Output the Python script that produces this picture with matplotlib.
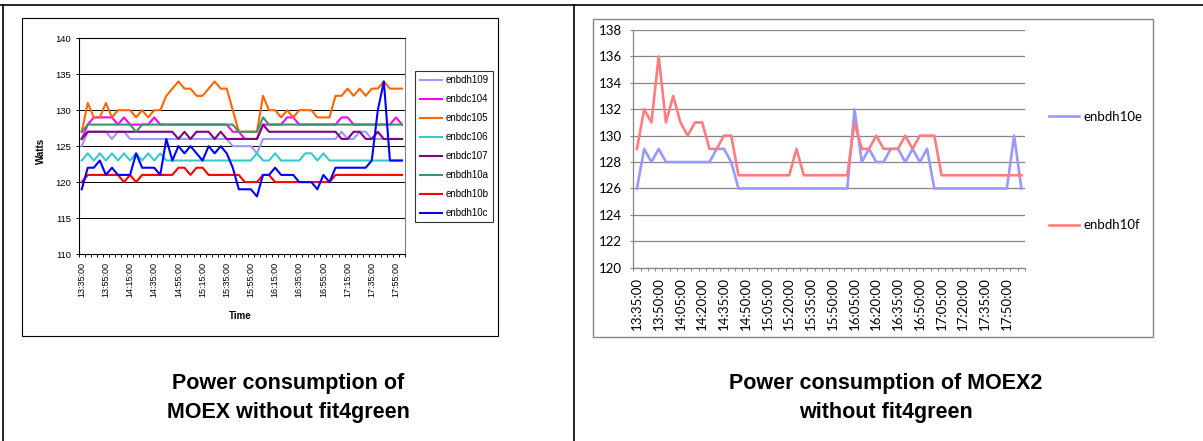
import matplotlib
matplotlib.use("Agg")
import matplotlib.pyplot as plt
from matplotlib.lines import Line2D
from matplotlib.patches import Rectangle
import pandas as pd

# sample times, every 5 minutes
times = pd.date_range("13:35", "18:00", freq="5min").strftime("%H:%M:%S").tolist()

# MOEX servers (Watts)
enbdh109 = [125, 127, 127, 127, 127, 126, 127, 127, 126, 126,
            126, 126, 126, 126, 126, 126, 126, 126, 126, 126,
            126, 126, 126, 126, 126, 125, 125, 125, 125, 124,
            126, 126, 126, 126, 126, 126, 126, 126, 126, 126,
            126, 126, 126, 127, 126, 126, 127, 127, 126, 126,
            126, 126, 126, 126]
enbdc104 = [126, 128, 129, 129, 129, 129, 128, 129, 128, 128,
            128, 128, 129, 128, 128, 128, 128, 128, 128, 128,
            128, 128, 128, 128, 128, 127, 127, 126, 126, 126,
            128, 128, 128, 128, 129, 129, 128, 128, 128, 128,
            128, 128, 128, 129, 129, 128, 128, 128, 128, 128,
            128, 128, 129, 128]
enbdc105 = [127, 131, 129, 129, 131, 129, 130, 130, 130, 129,
            130, 129, 130, 130, 132, 133, 134, 133, 133, 132,
            132, 133, 134, 133, 133, 130, 127, 127, 127, 127,
            132, 130, 130, 129, 130, 129, 130, 130, 130, 129,
            129, 129, 132, 132, 133, 132, 133, 132, 133, 133,
            134, 133, 133, 133]
enbdc106 = [123, 124, 123, 124, 123, 124, 123, 124, 123, 124,
            123, 124, 123, 124, 123, 123, 123, 123, 123, 123,
            123, 123, 123, 123, 123, 123, 123, 123, 123, 124,
            123, 123, 124, 123, 123, 123, 123, 124, 124, 123,
            124, 123, 123, 123, 123, 123, 123, 123, 123, 123,
            123, 123, 123, 123]
enbdc107 = [126, 127, 127, 127, 127, 127, 127, 127, 127, 127,
            127, 127, 127, 127, 127, 127, 126, 127, 126, 127,
            127, 127, 126, 127, 126, 126, 126, 126, 126, 126,
            128, 127, 127, 127, 127, 127, 127, 127, 127, 127,
            127, 127, 127, 126, 126, 127, 127, 126, 126, 127,
            126, 126, 126, 126]
enbdh10a = [127, 128, 128, 128, 128, 128, 128, 128, 128, 127,
            128, 128, 128, 128, 128, 128, 128, 128, 128, 128,
            128, 128, 128, 128, 128, 128, 127, 127, 127, 127,
            129, 128, 128, 128, 128, 128, 128, 128, 128, 128,
            128, 128, 128, 128, 128, 128, 128, 128, 128, 128,
            128, 128, 128, 128]
enbdh10b = [120, 121, 121, 121, 121, 121, 121, 120, 121, 120,
            121, 121, 121, 121, 121, 121, 122, 122, 121, 122,
            122, 121, 121, 121, 121, 121, 121, 120, 120, 120,
            121, 121, 120, 120, 120, 120, 120, 120, 120, 120,
            120, 120, 121, 121, 121, 121, 121, 121, 121, 121,
            121, 121, 121, 121]
enbdh10c = [119, 122, 122, 123, 121, 122, 121, 121, 121, 124,
            122, 122, 122, 121, 126, 123, 125, 124, 125, 124,
            123, 125, 124, 125, 124, 122, 119, 119, 119, 118,
            121, 121, 122, 121, 121, 121, 120, 120, 120, 119,
            121, 120, 122, 122, 122, 122, 122, 122, 123, 130,
            134, 123, 123, 123]

# MOEX2 servers (Watts)
enbdh10e = [126, 129, 128, 129, 128, 128, 128, 128, 128, 128,
            128, 129, 129, 128, 126, 126, 126, 126, 126, 126,
            126, 126, 126, 126, 126, 126, 126, 126, 126, 126,
            132, 128, 129, 128, 128, 129, 129, 128, 129, 128,
            129, 126, 126, 126, 126, 126, 126, 126, 126, 126,
            126, 126, 130, 126]
enbdh10f = [129, 132, 131, 136, 131, 133, 131, 130, 131, 131,
            129, 129, 130, 130, 127, 127, 127, 127, 127, 127,
            127, 127, 129, 127, 127, 127, 127, 127, 127, 127,
            131, 129, 129, 130, 129, 129, 129, 130, 129, 130,
            130, 130, 127, 127, 127, 127, 127, 127, 127, 127,
            127, 127, 127, 127]

moex = [("enbdh109", enbdh109, "#9999FF"),
        ("enbdc104", enbdc104, "#FF00FF"),
        ("enbdc105", enbdc105, "#FF6600"),
        ("enbdc106", enbdc106, "#33CCCC"),
        ("enbdc107", enbdc107, "#800080"),
        ("enbdh10a", enbdh10a, "#339966"),
        ("enbdh10b", enbdh10b, "#FF0000"),
        ("enbdh10c", enbdh10c, "#0000FF")]
moex2 = [("enbdh10e", enbdh10e, "#9999FF"),
         ("enbdh10f", enbdh10f, "#FF7C80")]

W, H = 1203, 441
fig = plt.figure(figsize=(W / 100, H / 100), dpi=100)


def box(l, t, r, b):
    # pixel box -> figure fraction rect
    return [l / W, 1 - b / H, (r - l) / W, (b - t) / H]


def frame(l, t, r, b, color, lw):
    x, y, w, h = box(l, t, r, b)
    fig.add_artist(Rectangle((x, y), w, h, transform=fig.transFigure,
                             fill=False, ec=color, lw=lw))


def hline(y, x0, x1):
    fig.add_artist(Line2D([x0 / W, x1 / W], [1 - y / H, 1 - y / H],
                          transform=fig.transFigure, color="black", lw=1.2))


def vline(x, y0, y1):
    fig.add_artist(Line2D([x / W, x / W], [1 - y0 / H, 1 - y1 / H],
                          transform=fig.transFigure, color="black", lw=1.2))


# table rules
hline(5, 0, W)
vline(2.5, 5, H)
vline(574, 5, H)

xs = list(range(len(times)))

# ---- left chart: MOEX ----
arial = "Liberation Sans"
frame(21.7, 18.3, 497.7, 335.7, "black", 0.8)
ax1 = fig.add_axes(box(78.7, 38.3, 405, 254))
for name, vals, col in moex:
    ax1.plot(xs, vals, color=col, lw=1.5, label=name)
ax1.set_xlim(-0.5, len(times) - 0.5)
ax1.set_ylim(110, 140)
ax1.set_yticks(range(110, 141, 5))
ax1.set_xticks(xs[::4])
ax1.set_xticklabels(times[::4], rotation=90, fontsize=6.5, family=arial)
ax1.set_xticks([x - 0.5 for x in xs] + [xs[-1] + 0.5], minor=True)
for lab in ax1.get_yticklabels():
    lab.set_fontsize(6.8)
    lab.set_family(arial)
ax1.tick_params(axis="x", which="major", length=0, pad=5.5)
ax1.tick_params(axis="x", which="minor", length=2.2, width=0.7)
ax1.tick_params(axis="y", length=2.5, width=0.7, pad=3.2)
ax1.grid(axis="y", color="black", lw=0.7)
ax1.set_axisbelow(True)
for s in ("left", "bottom", "top"):
    ax1.spines[s].set_color("black")
    ax1.spines[s].set_linewidth(0.8)
ax1.spines["right"].set_color("#808080")
ax1.set_ylabel("Watts", fontsize=7, fontweight="bold", family=arial)
ax1.set_xlabel("Time", fontsize=7, fontweight="bold", family=arial)
ax1.yaxis.set_label_coords(-0.116, 0.48)
ax1.xaxis.set_label_coords(0.494, -0.286)
ax1.yaxis.label.set_va("center")
ax1.xaxis.label.set_va("center")
leg1 = ax1.legend(loc="upper left", bbox_to_anchor=(415.3 / W, 1 - 71 / H),
                  bbox_transform=fig.transFigure, borderaxespad=0,
                  prop={"family": arial, "size": 7}, frameon=True,
                  fancybox=False, edgecolor="black", borderpad=0.45,
                  labelspacing=0.92, handlelength=2.3, handletextpad=0.4)
leg1.get_frame().set_linewidth(0.8)

# ---- right chart: MOEX2 ----
cal = "Lato"
grey = "#868686"
frame(593.3, 19.3, 1152.7, 336.7, grey, 1.0)
ax2 = fig.add_axes(box(633.3, 30, 1025, 267.7))
for name, vals, col in moex2:
    ax2.plot(xs, vals, color=col, lw=1.9, label=name)
ax2.set_xlim(-0.5, len(times) - 0.5)
ax2.set_ylim(120, 138)
ax2.set_yticks(range(120, 139, 2))
ax2.set_xticks(xs[::3][:18])
ax2.set_xticklabels(times[::3][:18], rotation=90, fontsize=9.5, family=cal)
ax2.set_xticks([x - 0.5 for x in xs] + [xs[-1] + 0.5], minor=True)
for lab in ax2.get_yticklabels():
    lab.set_fontsize(9.5)
    lab.set_family(cal)
ax2.tick_params(axis="x", which="major", length=0, pad=6.9)
ax2.tick_params(axis="x", which="minor", length=2.4, width=0.8, color=grey)
ax2.tick_params(axis="y", length=2.4, width=0.8, color=grey, pad=5.5)
ax2.grid(axis="y", color=grey, lw=0.9)
ax2.set_axisbelow(True)
for s in ("left", "bottom"):
    ax2.spines[s].set_color(grey)
    ax2.spines[s].set_linewidth(0.9)
ax2.spines["right"].set_visible(False)
ax2.spines["top"].set_visible(False)
ax2.legend(loc="upper left", bbox_to_anchor=(1049 / W, 1 - 111 / H),
           bbox_transform=fig.transFigure, borderaxespad=0, frameon=False,
           prop={"family": cal, "size": 9.5}, borderpad=0,
           labelspacing=7.3, handlelength=2.3, handletextpad=0.3)

# captions
cap = {"fontsize": 15.5, "fontweight": "bold", "family": arial,
       "ha": "center", "va": "center", "linespacing": 1.45}
fig.text(288 / W, 1 - 398 / H, "Power consumption of\nMOEX without fit4green", **cap)
fig.text(886 / W, 1 - 398 / H, "Power consumption of MOEX2\nwithout fit4green", **cap)

fig.savefig("out.png", dpi=100)
